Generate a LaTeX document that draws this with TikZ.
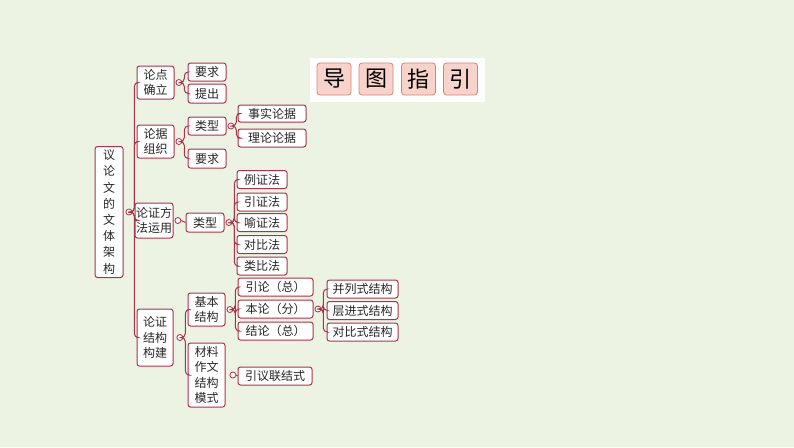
\documentclass[tikz,border=0pt]{standalone}
\usepackage{fontspec}
\setmainfont{Noto Sans CJK SC}
\usetikzlibrary{positioning}
\definecolor{bgreen}{RGB}{237,243,227}
\definecolor{mred}{RGB}{168,52,74}
\definecolor{tpink}{RGB}{248,211,203}
\definecolor{tred}{RGB}{214,130,120}

\begin{document}
\begin{tikzpicture}[x=1pt,y=-1pt,
  box/.style={draw=mred, line width=1pt, rounded corners=2.5pt, fill=white,
    inner sep=0pt, align=center, text=black!85,
    font=\fontsize{12}{15.5}\selectfont},
  dot/.style={circle, draw=mred, fill=white, line width=0.8pt, inner sep=0pt,
    minimum size=6pt},
  link/.style={draw=mred, line width=1pt, rounded corners=4pt},
  tchar/.style={draw=tred, fill=tpink, rounded corners=3pt, line width=0.8pt,
    minimum width=34pt, minimum height=32pt, inner sep=0pt,
    font=\fontsize{22}{22}\selectfont}]

\fill[bgreen] (0,0) rectangle (794,447);
\useasboundingbox (0,0) rectangle (794,447);

%title
\fill[white] (310,58) rectangle (485,102);
\foreach \t/\x [count=\i] in {导/334,图/376,指/418.5,引/460.5}
  \node[tchar] (t\i) at (\x,79) {\t};

%root
\node[box, minimum width=28pt, minimum height=131pt,
  font=\fontsize{12}{16.2}\selectfont] (root) at (109,212)
  {议\\论\\文\\的\\文\\体\\架\\构};
\node[dot, right=2pt of root] (d0) {};

%first level
\node[box, minimum width=37pt, minimum height=33pt] (A) at (155.5,82.5) {论点\\确立};
\node[box, minimum width=37pt, minimum height=33pt] (B) at (155.5,141.5) {论据\\组织};
\node[box, minimum width=38pt, minimum height=35pt] (C) at (154,220.5) {论证方\\法运用};
\node[box, minimum width=36pt, minimum height=57pt] (D) at (155,337.5) {论证\\结构\\构建};
\foreach \n in {A,B,C,D}
  \draw[link] (d0.east) -- ++(2,0) |- (\n.west);

%A
\node[dot, right=1pt of A] (dA) {};
\node[box, minimum width=38pt, minimum height=18pt] (A1) at (207,72) {要求};
\node[box, minimum width=38pt, minimum height=19pt] (A2) at (207,93.5) {提出};
\foreach \n in {A1,A2}
  \draw[link] (dA.east) -- ++(2,0) |- (\n.west);

%B
\node[dot, right=1pt of B] (dB) {};
\node[box, minimum width=38pt, minimum height=18pt] (B1) at (207,126) {类型};
\node[box, minimum width=38pt, minimum height=19pt] (B2) at (207,158.5) {要求};
\foreach \n in {B1,B2}
  \draw[link] (dB.east) -- ++(2,0) |- (\n.west);
\node[dot, right=1pt of B1] (dB1) {};
\node[box, minimum width=68pt, minimum height=17pt] (B11) at (272,113.5) {事实论据};
\node[box, minimum width=68pt, minimum height=18pt] (B12) at (272,138) {理论论据};
\foreach \n in {B11,B12}
  \draw[link] (dB1.east) -- ++(2,0) |- (\n.west);

%C
\node[dot, right=1pt of C] (dC) {};
\node[box, minimum width=38pt, minimum height=19pt] (C1) at (205,222.5) {类型};
\draw[link] (dC.east) -- (C1.west);
\node[dot, right=1pt of C1] (dC1) {};
\foreach \t/\y [count=\i] in {例证法/179.5,引证法/202,喻证法/222.5,对比法/244.5,类比法/266}{
  \node[box, minimum width=50pt, minimum height=18pt] (C1\i) at (262,\y) {\t};
  \draw[link] (dC1.east) -- ++(2,0) |- (C1\i.west);
}

%D
\node[dot, right=3pt of D] (dD) {};
\node[box, minimum width=37pt, minimum height=33pt] (D1) at (206.5,309.5) {基本\\结构};
\node[box, minimum width=37pt, minimum height=64pt] (D2) at (206.5,375) {材料\\作文\\结构\\模式};
\foreach \n in {D1,D2}
  \draw[link] (dD.east) -- ++(2,0) |- (\n.west);
\node[dot, right=1pt of D1] (dD1) {};
\foreach \t/\y [count=\i] in {引论（总）/287,本论（分）/309,结论（总）/331}{
  \node[box, minimum width=75pt, minimum height=18pt] (D1\i) at (275.5,\y) {\t};
  \draw[link] (dD1.east) -- ++(2,0) |- (D1\i.west);
}
\node[dot, right=1pt of D12] (dD12) {};
\foreach \t/\y [count=\i] in {并列式结构/289,层进式结构/310.5,对比式结构/332}{
  \node[box, minimum width=71pt, minimum height=18pt] (D12\i) at (362.5,\y) {\t};
  \draw[link] (dD12.east) -- ++(2,0) |- (D12\i.west);
}
\node[dot, right=4pt of D2] (dD2) {};
\node[box, minimum width=74pt, minimum height=18pt] (D21) at (275,376) {引议联结式};
\draw[link] (dD2.east) -- (D21.west);

\end{tikzpicture}
\end{document}
